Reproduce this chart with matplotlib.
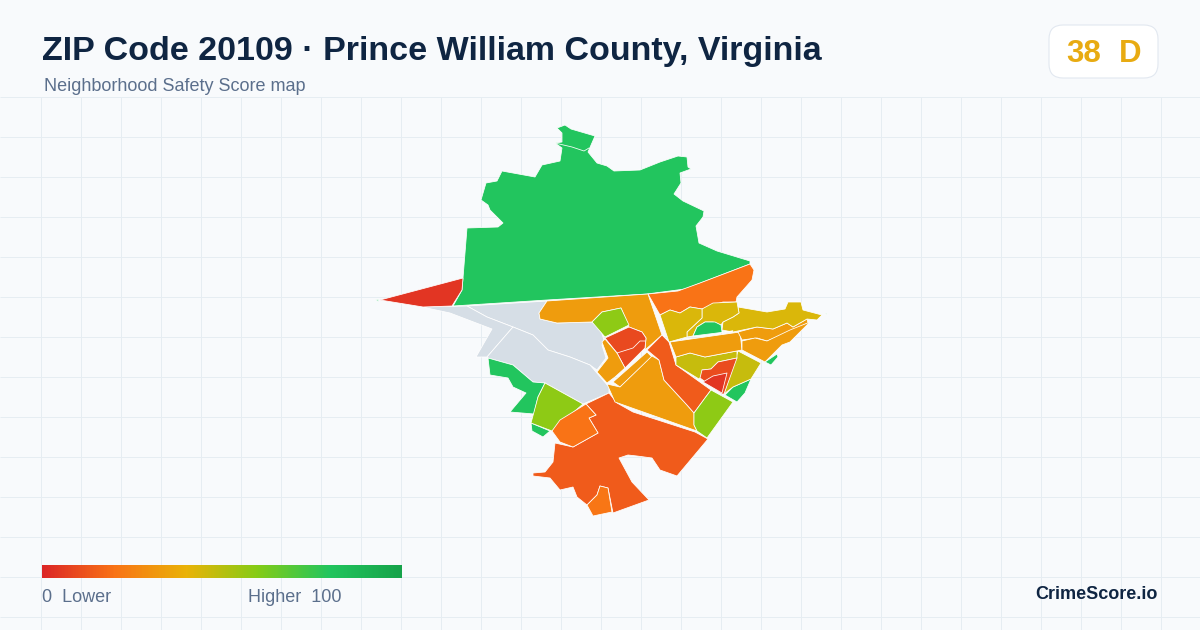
import numpy as np
import matplotlib
matplotlib.use("Agg")
import matplotlib.pyplot as plt
from matplotlib.colors import LinearSegmentedColormap
from matplotlib.patches import FancyBboxPatch

plt.rcParams['font.family'] = ['Liberation Sans', 'DejaVu Sans']

# Neighborhood outlines, traced in image pixels
north = [(557,128),(565,125),(571,129),(595,136),(588,152),(597,163),(607,166),(614,171),(640,170),(660,162),(678,156),(687,157),(688,167),(691,169),(680,173),(681,183),(674,194),(683,201),(704,211),(703,217),(696,226),(699,243),(717,251),(750,261),(750,264),(685,289),(647,294),(547,300),(453,306),(462,290),(463,278),(467,228),(498,227),(503,223),(490,210),(488,205),(481,200),(486,183),(497,181),(502,171),(535,177),(542,165),(560,161),(562,148),(555,143),(562,142),(562,133)]
west_wedge = [(380,300),(463,278),(462,290),(452,306),(423,307)]
gray_upper = [(467,306),(547,301),(539,313),(540,319),(557,323),(592,322),(600,328),(604,340),(602,345),(606,358),(597,370),(590,365),(570,357),(548,350),(533,335),(513,327),(487,317)]
gray_west = [(422,307),(467,306),(487,317),(513,327),(500,342),(487,357),(476,357),(492,329),(450,313)]
gray_lower = [(513,327),(533,335),(548,350),(570,357),(590,365),(609,387),(609,393),(583,404),(545,383),(533,382),(513,365),(488,358),(487,357),(500,342)]
sw_green = [(488,358),(513,365),(533,382),(545,383),(538,397),(534,414),(510,412),(526,393),(513,387),(508,378),(490,375)]
sw_small = [(531,423),(550,431),(543,437),(532,431)]
sw_lime = [(545,383),(583,404),(552,431),(531,423),(538,397)]
south = [(586,404),(609,393),(617,403),(633,412),(695,432),(708,439),(677,476),(660,470),(652,458),(637,456),(628,455),(619,458),(632,482),(649,500),(613,513),(608,488),(600,486),(597,495),(587,505),(577,497),(573,487),(560,490),(550,478),(533,476),(533,473),(545,472),(553,462),(555,443),(573,447),(598,433),(589,418),(596,415)]
south_inner = [(586,404),(596,415),(589,418),(598,433),(573,447),(560,442),(552,431),(560,420)]
south_tip = [(587,505),(597,495),(600,486),(608,488),(612,512),(593,516)]
top_orange = [(648,294),(678,291),(700,283),(750,264),(754,270),(752,280),(737,297),(736,302),(723,302),(702,309),(690,307),(680,313),(670,310),(660,315)]
central_amber = [(547,301),(648,294),(662,335),(645,350),(646,338),(642,332),(629,327),(621,308),(602,312),(592,322),(557,323),(540,319),(539,313)]
central_lime = [(592,322),(602,312),(621,308),(629,325),(605,337)]
central_red = [(605,338),(629,327),(642,332),(646,338),(645,348),(625,368),(617,353)]
left_amber = [(602,342),(605,339),(617,353),(625,368),(615,377),(607,383),(597,372),(608,358)]
strip_amber = [(613,382),(647,352),(652,357),(620,387)]
mid_amber = [(607,384),(620,387),(652,356),(659,360),(664,380),(687,405),(694,413),(694,425),(697,431),(615,402)]
diagonal = [(662,335),(669,342),(676,365),(711,390),(705,398),(694,413),(687,405),(664,380),(659,360),(647,350)]
se_lime = [(711,390),(733,402),(707,438),(697,431),(694,425),(694,413),(705,398)]
se_green = [(725,395),(733,387),(751,379),(745,393),(737,402)]
se_olive = [(738,351),(761,363),(751,379),(733,387),(724,394)]
center_olive = [(676,357),(690,353),(705,357),(737,351),(737,358),(718,362),(711,369),(702,370),(703,375),(699,379),(676,365)]
red_outer = [(700,378),(702,370),(711,369),(718,362),(737,358),(724,394),(722,394)]
red_inner = [(703,382),(713,376),(727,373),(722,393)]
east_band = [(670,342),(740,332),(742,350),(705,357),(690,353),(676,357)]
east_strip = [(738,332),(757,327),(773,329),(787,323),(793,327),(807,319),(808,323),(787,333),(767,341),(757,338),(742,340)]
east_amber = [(742,341),(755,338),(767,341),(790,330),(810,322),(790,342),(782,345),(765,362),(742,350)]
east_tiny = [(765,362),(777,354),(778,357),(771,365)]
tail_yellow = [(738,307),(767,312),(785,309),(788,302),(801,302),(803,310),(822,315),(817,320),(807,319),(793,327),(787,323),(773,329),(757,327),(733,332),(722,330),(723,322),(733,317),(739,313)]
ne_yellow = [(702,309),(713,303),(737,302),(739,313),(733,317),(723,322),(721,325),(713,322),(705,322),(697,327),(693,336),(687,337),(687,332),(702,318)]
nw_yellow = [(660,315),(670,310),(680,313),(690,307),(702,309),(702,318),(687,332),(687,337),(669,342)]
green_blob = [(693,336),(697,327),(705,322),(715,322),(721,325),(722,332),(733,331)]
speck_west = [(375,299),(378,299),(378,301)]
speck_east = [(825,313),(826,313),(826,314)]

# Estimated score per outline, None means no data
regions = [
    (gray_upper, None), (gray_west, None), (gray_lower, None),
    (north, 80), (west_wedge, 4), (sw_green, 80), (sw_small, 80), (sw_lime, 58),
    (south, 14), (south_inner, 20), (south_tip, 21), (top_orange, 20),
    (central_amber, 33), (central_lime, 58), (central_red, 9), (left_amber, 33),
    (strip_amber, 33), (mid_amber, 33), (diagonal, 14), (se_lime, 58), (se_green, 80),
    (se_olive, 47), (center_olive, 47), (red_outer, 10), (red_inner, 4),
    (east_band, 33), (east_strip, 33), (east_amber, 33), (east_tiny, 80),
    (tail_yellow, 43), (ne_yellow, 43), (nw_yellow, 43), (green_blob, 80),
    (speck_west, 80), (speck_east, 80),
]

# extra boundary lines inside a region
north_split = [(555,143),(572,147),(584,151),(589,148)]
red_split = [(617,353),(633,348),(640,341),(645,341)]

scale_stops = ['#dc2626', '#f97316', '#eab308', '#84cc16', '#22c55e', '#16a34a']
score_cmap = LinearSegmentedColormap.from_list('score', scale_stops)
no_data_color = '#d6dee6'

bg_color = '#f8fafc'
grid_color = '#e6edf2'
title_color = '#0f2542'
sub_color = '#5b6f8c'

fig = plt.figure(figsize=(12, 6.3), dpi=100, facecolor=bg_color)
ax = fig.add_axes([0, 0, 1, 1])
ax.set_axis_off()

# background grid starts under the header
ax.vlines(np.arange(40.5, 1200, 40), 97, 630, color=grid_color, lw=0.72, zorder=1)
ax.hlines(np.arange(96.5, 630, 40), 0, 1200, color=grid_color, lw=0.72, zorder=1)

for outline, score in regions:
    color = no_data_color if score is None else score_cmap(score / 100)
    xs, ys = zip(*outline)
    ax.fill(xs, ys, facecolor=color, edgecolor='white', lw=0.55, joinstyle='round', zorder=2)
for line in (north_split, red_split):
    xs, ys = zip(*line)
    ax.plot(xs, ys, color='white', lw=0.55, zorder=3)

ax.text(42, 60, 'ZIP Code 20109 · Prince William County, Virginia', fontsize=24.5,
        fontweight='bold', color=title_color, zorder=5)
ax.text(44, 91, 'Neighborhood Safety Score map', fontsize=12.95, color=sub_color, zorder=5)

badge = FancyBboxPatch((1049, 25), 109, 53, boxstyle='round,pad=0,rounding_size=14',
                       facecolor='white', edgecolor='#e2e8f0', lw=0.8, zorder=4)
ax.add_patch(badge)
ax.text(1066, 62, '38', fontsize=22.5, fontweight='bold', color='#e8ab12', zorder=5)
ax.text(1119, 62, 'D', fontsize=22.5, fontweight='bold', color='#e8ab12', zorder=5)

# colour scale
ax.imshow(np.linspace(0, 1, 360).reshape(1, -1), cmap=score_cmap, extent=(42, 402, 578, 565),
          aspect='auto', zorder=4)
ax.text(42, 602, '0  Lower', fontsize=13, color=sub_color, zorder=5)
ax.text(341, 602, 'Higher  100', fontsize=13, color=sub_color, ha='right', zorder=5)
ax.text(1158, 599, 'CrimeScore.io', fontsize=13, fontweight='bold', color=title_color,
        ha='right', zorder=5)

ax.set_xlim(0, 1200)
ax.set_ylim(630, 0)

fig.savefig('out.png', dpi=100, facecolor=bg_color)
